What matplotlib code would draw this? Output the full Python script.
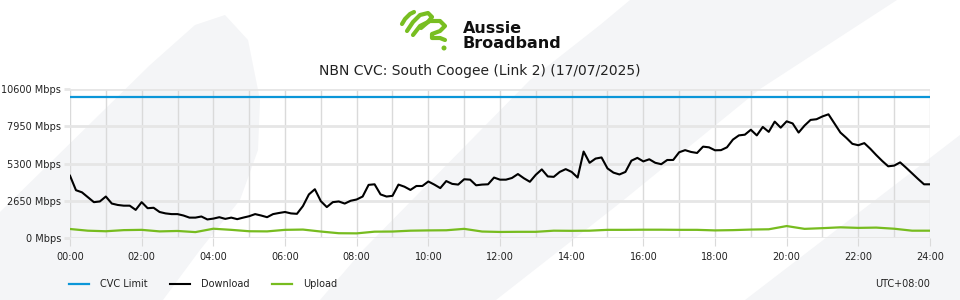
import numpy as np
import matplotlib.pyplot as plt
from matplotlib.patches import Polygon, Ellipse
from matplotlib.lines import Line2D

title = "NBN CVC: South Coogee (Link 2) (17/07/2025)"
zone_label = "UTC+08:00"
series_names = ["CVC Limit", "Download", "Upload"]
series_colors = ["#0b96d8", "#000000", "#77bc1f"]

cvc_limit = 10000

# download, Mbps, every 10 minutes from 00:00 to 24:00
download = [
    4430, 3400, 3250, 2900, 2550, 2600, 2950, 2450, 2350, 2300, 2300, 2000,
    2550, 2120, 2150, 1850, 1750, 1700, 1700, 1600, 1450, 1450, 1530, 1320,
    1380, 1480, 1360, 1450, 1340, 1450, 1550, 1700, 1600, 1480, 1700, 1780,
    1850, 1750, 1720, 2270, 3100, 3470, 2620, 2200, 2550, 2600, 2450, 2650,
    2740, 2950, 3780, 3820, 3100, 2950, 3000, 3800, 3650, 3420, 3700, 3700,
    4020, 3800, 3550, 4050, 3850, 3800, 4180, 4150, 3750, 3800, 3820, 4300,
    4150, 4150, 4270, 4550, 4250, 4000, 4500, 4880, 4380, 4350, 4700, 4900,
    4700, 4300, 6150, 5350, 5650, 5730, 4950, 4650, 4520, 4700, 5500, 5700,
    5450, 5600, 5350, 5250, 5550, 5550, 6100, 6250, 6120, 6050, 6500, 6450,
    6240, 6250, 6450, 7000, 7300, 7350, 7700, 7300, 7900, 7550, 8280, 7850,
    8300, 8150, 7500, 8000, 8400, 8450, 8650, 8800, 8150, 7500, 7120, 6700,
    6600, 6750, 6350, 5900, 5480, 5100, 5150, 5380, 5000, 4600, 4200, 3820,
    3820,
]

# upload, Mbps, every 30 minutes
upload = [
    640, 520, 480, 560, 580, 470, 500, 420, 660, 580, 480, 470,
    580, 600, 460, 340, 330, 450, 460, 520, 540, 550, 650, 460,
    430, 440, 440, 520, 510, 520, 580, 580, 590, 590, 580, 580,
    540, 560, 600, 620, 850, 650, 700, 760, 720, 740, 660, 520,
    520,
]

ytick_vals = [0, 2650, 5300, 7950, 10600]
ytick_labels = ["%d Mbps" % v for v in ytick_vals]
xtick_hours = list(range(0, 25, 2))
xtick_labels = ["%02d:00" % h for h in xtick_hours]

W, H = 960, 300


def px(pts):
    return [(x / W, 1 - y / H) for x, y in pts]


fig = plt.figure(figsize=(9.6, 3.0), dpi=100)
fig.patch.set_facecolor("white")

# faint watermark shapes behind everything
wm = "#f4f5f7"
left_blob = [(0, 212), (150, 65), (195, 25), (225, 15), (248, 40), (260, 100),
             (258, 150), (240, 200), (200, 250), (163, 300), (0, 300)]
mid_band = [(630, 0), (897, 0), (760, 89), (620, 203), (496, 300),
            (320, 300), (363, 250), (530, 80), (600, 25)]
right_band = [(745, 300), (960, 135), (960, 300)]
for shp in (left_blob, mid_band, right_band):
    fig.patches.append(Polygon(px(shp), closed=True, transform=fig.transFigure,
                               facecolor=wm, edgecolor="none", zorder=-10))

# logo squiggle
green = "#78be21"
strokes = [
    [(402, 24), (405, 19), (410, 14), (414, 12)],
    [(407, 31), (413, 22), (420, 15), (428, 13), (432, 17), (428, 22), (421, 28)],
    [(413, 35), (420, 26), (430, 21), (440, 21), (445, 26), (440, 31),
     (432, 34), (432, 38), (440, 38), (445, 40)],
]
for s in strokes:
    fig.lines.append(Line2D([p[0] / W for p in s], [1 - p[1] / H for p in s],
                            transform=fig.transFigure, color=green, lw=3.0,
                            solid_capstyle="round", solid_joinstyle="round"))
fig.patches.append(Ellipse((444 / W, 1 - 48 / H), 5 / W, 5 / H,
                           transform=fig.transFigure, facecolor=green,
                           edgecolor="none"))
fig.text(463 / W, 1 - 33 / H, "Aussie", fontsize=11.5, fontweight="bold",
         color="#111111", va="baseline", ha="left")
fig.text(463 / W, 1 - 48 / H, "Broadband", fontsize=11.5, fontweight="bold",
         color="#111111", va="baseline", ha="left")

fig.text(480 / W, 1 - 71 / H, title, fontsize=10, ha="center", va="center",
         color="#222222")

ax = fig.add_axes([70 / W, 62 / H, 860 / W, 149 / H])
ax.set_facecolor("none")

t_dl = np.arange(len(download)) / 6.0
t_ul = np.arange(len(upload)) / 2.0

l_cvc, = ax.plot([0, 24], [cvc_limit, cvc_limit], color=series_colors[0], lw=1.6)
l_dl, = ax.plot(t_dl, download, color=series_colors[1], lw=1.5)
l_ul, = ax.plot(t_ul, upload, color=series_colors[2], lw=1.6)

ax.set_xlim(0, 24)
ax.set_ylim(0, 10600)
ax.set_xticks(xtick_hours)
ax.set_xticklabels(xtick_labels)
ax.set_xticks(range(0, 25), minor=True)
ax.set_yticks(ytick_vals)
ax.set_yticklabels(ytick_labels)
for sp in ax.spines.values():
    sp.set_visible(False)
ax.grid(True, which="major", axis="y", color="#e6e6e6", lw=2.0)
ax.grid(True, which="both", axis="x", color="#dadada", lw=1.0)
ax.set_axisbelow(True)
ax.tick_params(axis="x", which="major", length=6, color="#dadada",
               labelsize=7, pad=4, labelcolor="#222222")
ax.tick_params(axis="x", which="minor", length=0)
ax.tick_params(axis="y", length=4, color="#e6e6e6", width=2,
               labelsize=7, pad=2.5, labelcolor="#222222")

fig.legend([l_cvc, l_dl, l_ul], series_names, loc="center left",
           bbox_to_anchor=(60 / W, 1 - 284 / H), ncol=3, frameon=False,
           fontsize=7, handlelength=2.1, handletextpad=1.1,
           columnspacing=2.3, labelcolor="#222222")
fig.text(930 / W, 1 - 284 / H, zone_label, fontsize=7, ha="right",
         va="center", color="#222222")

fig.savefig("out.png", dpi=100, facecolor="white")
